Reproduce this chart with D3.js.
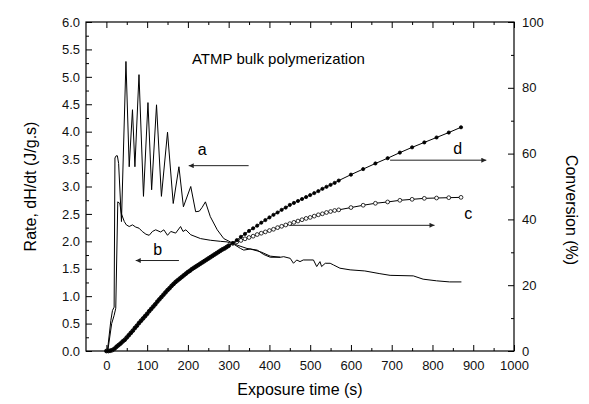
<!DOCTYPE html>
<html>
<head>
<meta charset="utf-8">
<script src="https://cdn.jsdelivr.net/npm/d3@7"></script>
<style>
  body { margin: 0; background: #fff; }
  svg { font-family: "Liberation Sans", Arial, sans-serif; }
</style>
</head>
<body>
<svg class="chart"></svg>
<script>
// rate curves (J/g.s) vs exposure time (s)
var rateATime = [0,3,11,15,19,21,24,27,30,37,48,56,64,70,80,91,102,111,123,135,150,164,178,189,207,219,228,235,243,255,272,288,304,321,345,370,386,402,427,435,451,459,467,475,483,508,516,524,528,537,549,557,573,598,634,671,696,753,777,810,842,871];
var rateA = [0,0.03,0.56,0.74,0.80,3.52,3.56,3.56,3.42,2.36,5.28,3.36,4.40,3.36,5.04,2.82,4.53,2.94,4.49,2.82,3.99,2.69,3.36,2.63,3.00,2.54,2.55,2.62,2.72,2.45,2.21,2.05,1.99,1.93,1.87,1.84,1.76,1.71,1.71,1.72,1.69,1.60,1.66,1.63,1.66,1.66,1.54,1.63,1.54,1.60,1.60,1.57,1.51,1.48,1.46,1.41,1.38,1.37,1.31,1.28,1.26,1.26];

var rateBTime = [0,4,13,19,23,28,33,37,44,49,56,64,72,80,88,97,105,113,121,133,141,150,158,170,182,188,195,207,231,255,280,296,312,329,337,353,378,402,427];
var rateB = [0,0.03,0.50,0.65,0.78,2.72,2.69,2.50,2.36,2.30,2.27,2.30,2.26,2.24,2.18,2.13,2.11,2.18,2.21,2.17,2.21,2.11,2.18,2.15,2.27,2.18,2.21,2.12,2.05,2.02,2.00,1.99,1.95,1.87,1.84,1.86,1.81,1.73,1.71];

// conversion curves (%)
var convTime = [0,5,10,15,20,25,30,35,40,45,50,55,60,65,70,75,80,85,90,95,
  100,105,110,115,120,125,130,135,140,145,150,155,160,165,170,175,180,185,190,195,
  200,205,210,215,220,225,230,235,240,245,250,255,260,265,270,275,280,285,290,295,300,
  310,320,330,340,350,360,370,380,390,400,410,420,430,440,450,460,470,480,490,500,510,520,530,540,550,560,
  570,600,630,660,690,720,750,780,810,840,870];
var convD = [0.0,0.0,0.1,0.3,0.7,1.3,1.8,2.3,2.9,3.4,4.1,4.8,5.5,6.2,7.0,7.7,8.5,9.2,9.9,10.6,
  11.3,12.1,12.8,13.5,14.2,15.0,15.7,16.4,17.1,17.8,18.5,19.1,19.8,20.4,21.0,21.5,22.0,22.5,23.0,23.5,
  24.0,24.4,24.9,25.3,25.7,26.1,26.5,26.9,27.3,27.7,28.1,28.5,28.9,29.3,29.7,30.1,30.5,30.9,31.2,31.6,32.0,
  32.8,33.7,34.7,35.6,36.5,37.3,38.1,39.0,39.8,40.6,41.4,42.1,42.9,43.6,44.4,45.0,45.6,46.2,46.8,47.4,48.0,48.6,49.3,49.9,50.5,51.1,
  51.8,53.6,55.3,57.0,58.6,60.3,61.9,63.4,64.9,66.4,68.0];
var convC = [0.0,0.0,0.1,0.3,0.7,1.3,1.8,2.3,2.9,3.4,4.1,4.8,5.5,6.2,7.0,7.7,8.5,9.2,9.9,10.6,
  11.3,12.1,12.8,13.5,14.2,15.0,15.7,16.4,17.1,17.8,18.5,19.1,19.8,20.4,21.0,21.5,22.0,22.5,23.0,23.5,
  24.0,24.4,24.9,25.3,25.7,26.1,26.5,26.9,27.3,27.7,28.1,28.5,28.9,29.3,29.7,30.1,30.5,30.9,31.2,31.6,32.0,
  32.7,33.2,33.6,34.1,34.5,34.9,35.4,35.8,36.2,36.6,37.0,37.5,37.9,38.3,38.7,39.1,39.5,39.9,40.3,40.6,41.0,41.4,41.7,42.1,42.4,42.7,
  42.9,43.6,44.3,44.9,45.3,45.8,46.1,46.4,46.5,46.6,46.7];

// ticks
var xTicks = [0,100,200,300,400,500,600,700,800,900,1000];
var xMinor = [50,150,250,350,450,550,650,750,850,950];
var rateTicks = [0,0.5,1,1.5,2,2.5,3,3.5,4,4.5,5,5.5,6];
var rateMinor = [0.25,0.75,1.25,1.75,2.25,2.75,3.25,3.75,4.25,4.75,5.25,5.75];
var convTicks = [0,20,40,60,80,100];
var convMinor = [10,30,50,70,90];

// annotation arrows: [x1, x2, y, axis] (arrow points to x2), labels [text, x, y, axis]
var arrows = [[349,202,3.38,"rate"],[178,72,1.65,"rate"],[451,805,38.2,"conv"],[696,932,58.0,"conv"]];
var labels = [["a",235,3.58,"rate"],["b",126,1.75,"rate"],["c",888,40.1,"conv"],["d",862,59.8,"conv"]];

var screen = {width:589, height:404};
var margins = {top:22, bottom:53, left:86, right:75};
var width = screen.width - margins.left - margins.right;
var height = screen.height - margins.top - margins.bottom;

var svg = d3.select(".chart")
  .attr("width", screen.width)
  .attr("height", screen.height);

var xScale = d3.scaleLinear().domain([-50,1000]).range([0,width]);
var yRate = d3.scaleLinear().domain([0,6]).range([height,0]);
var yConv = d3.scaleLinear().domain([0,100]).range([height,0]);
var yOf = function(axis){ return axis == "rate" ? yRate : yConv; };

var g = svg.append("g").attr("transform","translate("+margins.left+","+margins.top+")");

svg.append("defs").append("marker")
  .attr("id","head")
  .attr("viewBox","0 0 10 10")
  .attr("refX",10).attr("refY",5)
  .attr("markerWidth",9).attr("markerHeight",5)
  .attr("markerUnits","userSpaceOnUse")
  .attr("orient","auto")
  .append("path").attr("d","M0,0L10,5L0,10Z").attr("fill","#222");

// axes
var styleAxis = function(sel){
  sel.select(".domain").remove();
  sel.selectAll("line").attr("stroke","#000").attr("stroke-width",1);
  sel.selectAll("text").attr("fill","#111").attr("font-size","13px");
};
g.append("g").attr("transform","translate(0,"+height+")")
  .call(d3.axisBottom(xScale).tickValues(xTicks).tickSize(-6).tickPadding(10).tickFormat(d3.format("d")))
  .call(styleAxis);
g.append("g").attr("transform","translate(0,"+height+")")
  .call(d3.axisBottom(xScale).tickValues(xMinor).tickSize(-3).tickFormat(""))
  .call(styleAxis);
g.append("g")
  .call(d3.axisTop(xScale).tickValues(xTicks).tickSize(-6).tickFormat(""))
  .call(styleAxis);
g.append("g")
  .call(d3.axisTop(xScale).tickValues(xMinor).tickSize(-3).tickFormat(""))
  .call(styleAxis);
g.append("g")
  .call(d3.axisLeft(yRate).tickValues(rateTicks).tickSize(-6).tickPadding(6).tickFormat(d3.format(".1f")))
  .call(styleAxis);
g.append("g")
  .call(d3.axisLeft(yRate).tickValues(rateMinor).tickSize(-3).tickFormat(""))
  .call(styleAxis);
g.append("g").attr("transform","translate("+width+",0)")
  .call(d3.axisRight(yConv).tickValues(convTicks).tickSize(-6).tickPadding(8).tickFormat(d3.format("d")))
  .call(styleAxis);
g.append("g").attr("transform","translate("+width+",0)")
  .call(d3.axisRight(yConv).tickValues(convMinor).tickSize(-3).tickFormat(""))
  .call(styleAxis);

g.append("rect").attr("width",width).attr("height",height)
  .attr("fill","none").attr("stroke","#000").attr("stroke-width",1.2);

// rate lines
var rateLine = d3.line()
  .x(function(d){return xScale(d[0])})
  .y(function(d){return yRate(d[1])});
g.append("path").datum(d3.zip(rateBTime,rateB))
  .attr("d",rateLine).attr("fill","none").attr("stroke","#000").attr("stroke-width",1);
g.append("path").datum(d3.zip(rateATime,rateA))
  .attr("d",rateLine).attr("fill","none").attr("stroke","#000").attr("stroke-width",1);

// conversion lines with markers
var convLine = d3.line()
  .x(function(d){return xScale(d[0])})
  .y(function(d){return yConv(d[1])});
var drawConv = function(vals, fill, r){
  var pts = d3.zip(convTime, vals);
  g.append("path").datum(pts).attr("d",convLine)
    .attr("fill","none").attr("stroke","#000").attr("stroke-width",1);
  g.append("g").selectAll("circle").data(pts).enter().append("circle")
    .attr("cx",function(d){return xScale(d[0])})
    .attr("cy",function(d){return yConv(d[1])})
    .attr("r",r)
    .attr("fill",fill).attr("stroke","#000").attr("stroke-width",0.8);
};
drawConv(convC,"#fff",1.9);
drawConv(convD,"#000",1.6);

// arrows and letters
arrows.forEach(function(a){
  var y = yOf(a[3]);
  g.append("line")
    .attr("x1",xScale(a[0])).attr("x2",xScale(a[1]))
    .attr("y1",y(a[2])).attr("y2",y(a[2]))
    .attr("stroke","#222").attr("stroke-width",1)
    .attr("marker-end","url(#head)");
});
labels.forEach(function(l){
  g.append("text")
    .attr("x",xScale(l[1])).attr("y",yOf(l[3])(l[2]))
    .attr("text-anchor","middle").attr("font-size","16px")
    .text(l[0]);
});

// titles
g.append("text").attr("x",xScale(210)).attr("y",42)
  .attr("font-size","15px").text("ATMP bulk polymerization");
svg.append("text").attr("x",margins.left+width/2).attr("y",395)
  .attr("text-anchor","middle").attr("font-size","16px").text("Exposure time (s)");
svg.append("text").attr("transform","translate(36,"+(margins.top+height/2)+") rotate(-90)")
  .attr("text-anchor","middle").attr("font-size","16px").text("Rate, dH/dt (J/g.s)");
svg.append("text").attr("transform","translate(566,210) rotate(90)")
  .attr("text-anchor","middle").attr("font-size","16px").text("Conversion (%)");
</script>
</body>
</html>
